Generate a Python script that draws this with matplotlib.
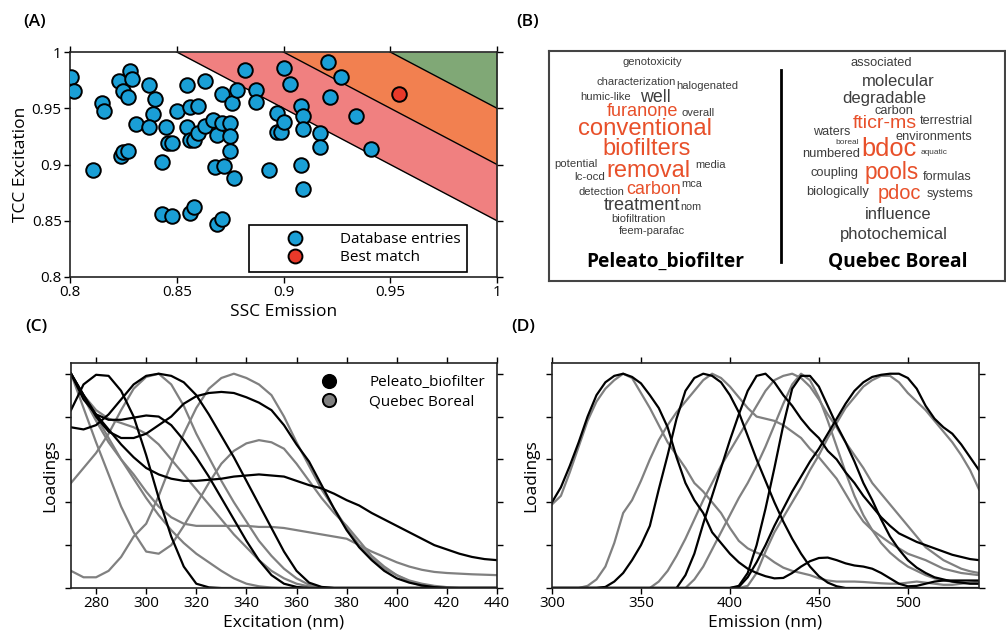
import numpy as np
import matplotlib
matplotlib.use("Agg")
from matplotlib import pyplot as plt
from matplotlib.lines import Line2D

plt.rcParams['font.family'] = ['Open Sans', 'DejaVu Sans']

# ---- panel A: database match scores
ssc = [0.8005, 0.802, 0.811, 0.815, 0.816, 0.823, 0.825, 0.828, 0.829, 0.827,
       0.831, 0.824, 0.825, 0.827, 0.837, 0.840, 0.839, 0.837, 0.843, 0.843,
       0.848, 0.845, 0.846, 0.848, 0.850, 0.855, 0.863, 0.855, 0.856, 0.858,
       0.856, 0.860, 0.860, 0.863, 0.867, 0.869, 0.871, 0.875, 0.875, 0.875,
       0.871, 0.876, 0.878, 0.868, 0.872, 0.877, 0.856, 0.858, 0.869, 0.871,
       0.882, 0.887, 0.887, 0.893, 0.897, 0.897, 0.899, 0.900, 0.903, 0.900,
       0.908, 0.909, 0.909, 0.908, 0.909, 0.917, 0.917, 0.921, 0.927, 0.922,
       0.934, 0.941]
tcc = [0.978, 0.965, 0.895, 0.955, 0.948, 0.974, 0.965, 0.983, 0.976, 0.960,
       0.936, 0.908, 0.911, 0.912, 0.971, 0.958, 0.945, 0.933, 0.902, 0.856,
       0.854, 0.933, 0.919, 0.919, 0.948, 0.971, 0.974, 0.933, 0.922, 0.922,
       0.951, 0.952, 0.928, 0.934, 0.940, 0.926, 0.937, 0.937, 0.925, 0.912,
       0.963, 0.955, 0.966, 0.898, 0.899, 0.888, 0.857, 0.862, 0.847, 0.852,
       0.984, 0.966, 0.956, 0.895, 0.946, 0.929, 0.929, 0.986, 0.972, 0.938,
       0.952, 0.943, 0.932, 0.900, 0.878, 0.928, 0.916, 0.991, 0.978, 0.960,
       0.943, 0.914]
best_ssc, best_tcc = 0.954, 0.963
bands = [1.85, 1.90, 1.95]   # thresholds on SSC + TCC

# ---- panel B: word clouds
words_left = ["genotoxicity", "characterization", "halogenated", "humic-like", "well",
              "furanone", "overall", "conventional", "biofilters", "potential", "media",
              "lc-ocd", "removal", "carbon", "mca", "detection", "treatment", "nom",
              "biofiltration", "feem-parafac"]
words_right = ["associated", "molecular", "degradable", "carbon", "fticr-ms", "terrestrial",
               "waters", "environments", "boreal", "bdoc", "numbered", "aquatic", "coupling",
               "pools", "formulas", "biologically", "pdoc", "systems", "influence",
               "photochemical"]
hot_left = ["furanone", "conventional", "biofilters", "removal", "carbon"]
hot_right = ["fticr-ms", "bdoc", "pools", "pdoc"]
datasets = ["Peleato_biofilter", "Quebec Boreal"]

# ---- panel C: excitation loadings
ex_nm = np.arange(270, 441, 5)
ex_peleato = [
    [.83, .95, .995, .99, .92, .80, .62, .42, .24, .10, .02, .003] + [0] * 23,
    [.75, .74, .76, .81, .88, .95, .99, 1.0, .99, .96, .90, .81, .71, .61, .50, .39,
     .28, .17, .08, .025, .005] + [0] * 14,
    [1.0, .88, .81, .785, .785, .795, .805, .80, .76, .69, .61, .52, .42, .32, .22,
     .13, .06, .02, .005, 0] + [0] * 15,
    [1.0, .90, .80, .73, .70, .70, .72, .76, .80, .86, .895, .91, .915, .91, .89, .865,
     .83, .76, .67, .59, .48, .37, .27, .19, .13, .08, .045, .025, .012, .004, 0, 0, 0, 0, 0],
    [1.0, .90, .81, .74, .67, .61, .56, .53, .51, .50, .50, .505, .51, .52, .525, .53,
     .525, .52, .50, .48, .465, .44, .41, .385, .35, .32, .29, .26, .23, .20, .18, .16,
     .145, .135, .13],
]
ex_quebec = [
    [.08, .05, .05, .08, .145, .24, .30, .43, .58, .72, .84, .93, .98, 1.0, .98, .95,
     .90, .80, .68, .57, .46, .37, .28, .20, .14, .09, .06, .035, .02, .01, .004, 0, 0, 0, 0],
    [.49, .56, .63, .72, .83, .93, .985, 1.0, .95, .85, .72, .61, .50, .40, .31, .22,
     .15, .09, .045, .015, .003] + [0] * 14,
    [1.0, .84, .68, .53, .38, .26, .17, .16, .20, .29, .39, .49, .58, .64, .675, .69,
     .68, .65, .58, .50, .42, .35, .29, .22, .15, .10, .06, .03, .01, .003, 0, 0, 0, 0, 0],
    [1.0, .89, .78, .68, .60, .53, .45, .38, .33, .30, .29, .29, .29, .29, .29, .285,
     .285, .28, .27, .26, .25, .24, .23, .20, .17, .145, .12, .10, .085, .075, .07, .067,
     .064, .062, .06],
    [1.0, .90, .83, .79, .77, .75, .72, .67, .60, .53, .46, .39, .32, .25, .19, .13,
     .08, .045, .02, .007, 0] + [0] * 14,
    [1.0, .90, .80, .70, .60, .51, .42, .34, .27, .21, .16, .12, .08, .045, .02, .008,
     .002] + [0] * 18,
]

# ---- panel D: emission loadings
em_nm = np.arange(300, 541, 5)
em_peleato = [
    [.40, .47, .57, .68, .80, .90, .96, .99, 1.0, .985, .955, .90, .84, .75, .61, .49,
     .41, .35, .26, .21, .16, .12, .09, .07, .055, .045, .047, .07, .10, .125, .14, .142,
     .13, .115, .105, .10, .09, .07, .045, .02, .008, .01, .02, .03, .035, .035, .035,
     .035, .035],
    [0] * 6 + [.005, .03, .07, .13, .20, .29, .46, .62, .79, .92, .98, 1.0, .99, .96, .90,
               .82, .71, .60, .50, .40, .31, .23, .16, .10, .055, .025, .008] + [0] * 16,
    [0] * 14 + [0, .06, .16, .30, .43, .56, .69, .81, .92, .99, 1.0, .96, .90, .85, .79,
                .74, .70, .64, .60, .54, .49, .43, .38, .33, .29, .255, .235, .215, .20,
                .185, .17, .155, .145, .135, .13],
    [0] * 20 + [0, .01, .07, .20, .37, .56, .76, .93, .99, .99, .94, .85, .76, .68, .59,
                .49, .41, .32, .24, .18, .13, .095, .07, .05, .04, .03, .025, .02, .02],
    [0] * 20 + [0, .005, .05, .12, .20, .29, .37, .45, .52, .59, .65, .72, .79, .86, .92,
                .96, .985, .995, 1.0, 1.0, .98, .93, .85, .79, .75, .72, .67, .61, .55],
]
em_quebec = [
    [.39, .43, .54, .66, .78, .87, .93, .97, 1.0, .98, .91, .84, .76, .68, .62, .56,
     .49, .45, .40, .35, .28, .22, .185, .165, .15, .12, .095, .08, .07, .06, .045, .035,
     .03, .03, .03, .028, .025, .022, .02, .02, .025, .03, .025, .02, .015, .015, .02,
     .025, .03],
    [0] * 4 + [.01, .04, .10, .21, .35, .41, .50, .60, .69, .76, .82, .87, .92, .97, 1.0,
               .98, .94, .89, .84, .80, .79, .78, .76, .73, .70, .65, .61, .56, .51, .44,
               .37, .31, .27, .24, .21, .185, .16, .145, .13, .11, .09, .08, .07, .065, .06],
    [0] * 11 + [0, .03, .08, .15, .23, .32, .41, .49, .57, .64, .71, .78, .85, .92, .97,
                .99, 1.0, .98, .94, .88, .81, .75, .68, .62, .56, .49, .44, .39, .34, .29,
                .24, .19, .16, .13, .11, .09, .078, .07],
    [0] * 15 + [0, .04, .10, .18, .26, .34, .42, .49, .57, .66, .76, .86, .95, 1.0, .97,
                .89, .78, .66, .54, .43, .34, .27, .21, .165, .13, .10, .08, .06, .045,
                .035, .03, .025, .022, .02],
    [0] * 21 + [0, .01, .07, .17, .26, .33, .40, .47, .55, .62, .70, .77, .84, .89, .94,
                .97, .99, .99, .96, .91, .87, .83, .78, .73, .68, .62, .55, .46],
]

# ---------------------------------------------------------------------------
BLUE = "#1a9fd6"
GRAY = "#808080"
TXT = "#3d3d3d"
RED_WORD = "#e8502a"

fig = plt.figure(figsize=(10.06, 6.33), dpi=100)
W, H = 1006.0, 633.0


def px_axes(l, t, r, b):
    return fig.add_axes([l / W, 1 - b / H, (r - l) / W, (b - t) / H])


def style_frame(ax):
    ax.tick_params(direction="out", length=4, width=1, top=True, right=True,
                   labelsize=11, pad=2)
    for s in ax.spines.values():
        s.set_linewidth(1.2)
        s.set_color("#222222")


# ---- A
axA = px_axes(70, 52, 497, 277)
xs = np.linspace(0.8, 1.0, 200)
band_cols = ["#f08080", "#f28050", "#80a876"]
tops = bands[1:] + [3.0]
for lo, hi, c in zip(bands, tops, band_cols):
    axA.fill_between(xs, np.clip(lo - xs, 0.8, 1), np.clip(hi - xs, 0.8, 1),
                     color=c, lw=0, zorder=1)
for b in bands:
    axA.plot(xs, b - xs, color="black", lw=1, zorder=2)
axA.scatter(ssc, tcc, s=110, c=BLUE, edgecolors="black", linewidths=1.4, zorder=3)
axA.scatter([best_ssc], [best_tcc], s=110, c="#e8392a", edgecolors="black",
            linewidths=1.4, zorder=3)
axA.set_xlim(0.8, 1)
axA.set_ylim(0.8, 1)
axA.set_xticks([0.8, 0.85, 0.9, 0.95, 1])
axA.set_xticklabels(["0.8", "0.85", "0.9", "0.95", "1"])
axA.set_yticks([0.8, 0.85, 0.9, 0.95, 1])
axA.set_yticklabels(["0.8", "0.85", "0.9", "0.95", "1"])
style_frame(axA)
axA.set_xlabel("SSC Emission", fontsize=12.5, labelpad=3)
axA.set_ylabel("TCC Excitation", fontsize=12.5, labelpad=2)
hA = [Line2D([], [], ls="", marker="o", ms=10, mfc=BLUE, mec="black", mew=1.4),
      Line2D([], [], ls="", marker="o", ms=10, mfc="#e8392a", mec="black", mew=1.4)]
legA = axA.legend(hA, ["Database entries", "Best match"], loc="lower right",
                  bbox_to_anchor=(0.93, 0.022), fontsize=11, fancybox=False,
                  edgecolor="black", framealpha=1, borderpad=0.45, handlelength=5.2,
                  handletextpad=0.3, labelspacing=0.2, borderaxespad=0)
legA.get_frame().set_linewidth(1.2)
legA.set_zorder(5)

# ---- B
axB = px_axes(549, 51, 1005, 281)
axB.set_xlim(549, 1005)
axB.set_ylim(281, 51)
axB.set_xticks([])
axB.set_yticks([])
for s in axB.spines.values():
    s.set_linewidth(1.5)
    s.set_color("#444444")

# word layout: centre x, centre y, width (pixels)
lay_left = [(652.7, 62.3, 60), (636.3, 82, 79.3), (707.2, 85.7, 62.3), (605.3, 96.7, 50.7),
            (655.3, 97, 30.7), (642.8, 111, 72.3), (698.3, 113.3, 33.3),
            (645, 129.3, 134.7), (646.7, 149.3, 88.7), (575.8, 164, 43), (710.7, 164.7, 30.7),
            (589.7, 177.3, 30.7), (648.3, 170.7, 84.7), (653.2, 189.3, 55), (691.5, 184.3, 21),
            (601.5, 192, 45.7), (642.2, 205.3, 77), (691.2, 207.3, 21), (638.8, 218.7, 54.3),
            (651.7, 231.3, 66.7)]
lay_right = [(880.8, 62.7, 61.7), (898, 81, 72.7), (884.3, 98.7, 83.3), (893.7, 110.5, 39.3),
             (884.5, 123.5, 64.3), (946, 121, 53.3), (831.3, 132, 37.3), (933.7, 136.7, 77.3),
             (847.3, 142.7, 23.3), (889.2, 149, 55), (830.8, 154, 58.3), (934, 152.7, 26.7),
             (834.2, 173.3, 48.3), (892, 172.7, 54), (947.2, 176.7, 49), (837.7, 191.7, 63.3),
             (899, 193.3, 43.3), (950, 194.3, 46.7), (897.7, 214.3, 66.7), (893.8, 235, 107.7)]

renderer = fig.canvas.get_renderer()


def fit_text(x, y, s, width, **kw):
    t = axB.text(x, y, s, fontsize=10, ha="center", va="center", **kw)
    bw = t.get_window_extent(renderer).width
    t.set_fontsize(10 * width / bw)
    return t


for words, lay, hot in [(words_left, lay_left, hot_left), (words_right, lay_right, hot_right)]:
    for wd, (x, y, w) in zip(words, lay):
        fit_text(x, y, wd, w, color=RED_WORD if wd in hot else TXT,
                 family="Liberation Sans")
fit_text(665.5, 261.7, datasets[0], 159, color="black", weight="bold")
fit_text(897.7, 261.7, datasets[1], 140, color="black", weight="bold")
axB.plot([781, 781], [70, 262], color="black", lw=2)

# ---- C
axC = px_axes(71, 363, 497, 588)
for ys in ex_quebec:
    axC.plot(ex_nm, ys, color=GRAY, lw=1.6)
for ys in ex_peleato:
    axC.plot(ex_nm, ys, color="black", lw=1.6)
axC.set_xlim(270, 440)
axC.set_ylim(0, 1.05)
axC.set_xticks(np.arange(280, 441, 20))
axC.set_yticks(np.arange(0, 1.01, 0.2))
axC.set_yticklabels([])
style_frame(axC)
axC.set_xlabel("Excitation (nm)", fontsize=12.5, labelpad=2)
axC.set_ylabel("Loadings", fontsize=12.5, labelpad=3)
hC = [Line2D([], [], ls="", marker="o", ms=9.5, mfc="black", mec="black", mew=1.4),
      Line2D([], [], ls="", marker="o", ms=9.5, mfc=GRAY, mec="black", mew=1.4)]
axC.legend(hC, datasets, loc="upper right", bbox_to_anchor=(1.0, 1.0), frameon=False,
           fontsize=11, handlelength=1.5, handletextpad=1.9, labelspacing=0.25,
           borderaxespad=0.4)

# ---- D
axD = px_axes(552, 363, 979, 588)
for ys in em_quebec:
    axD.plot(em_nm, ys, color=GRAY, lw=1.6)
for ys in em_peleato:
    axD.plot(em_nm, ys, color="black", lw=1.6)
axD.set_xlim(300, 540)
axD.set_ylim(0, 1.05)
axD.set_xticks(np.arange(300, 501, 50))
axD.set_yticks(np.arange(0, 1.01, 0.2))
axD.set_yticklabels([])
style_frame(axD)
axD.set_xlabel("Emission (nm)", fontsize=12.5, labelpad=2)
axD.set_ylabel("Loadings", fontsize=12.5, labelpad=3)

# panel letters
for lbl, x, y in [("(A)", 35, 22), ("(B)", 528, 22), ("(C)", 36, 327), ("(D)", 523, 327)]:
    fig.text(x / W, 1 - y / H, lbl, fontsize=12.5, weight="semibold", ha="center",
             va="center")

fig.savefig("out.png", dpi=100)
